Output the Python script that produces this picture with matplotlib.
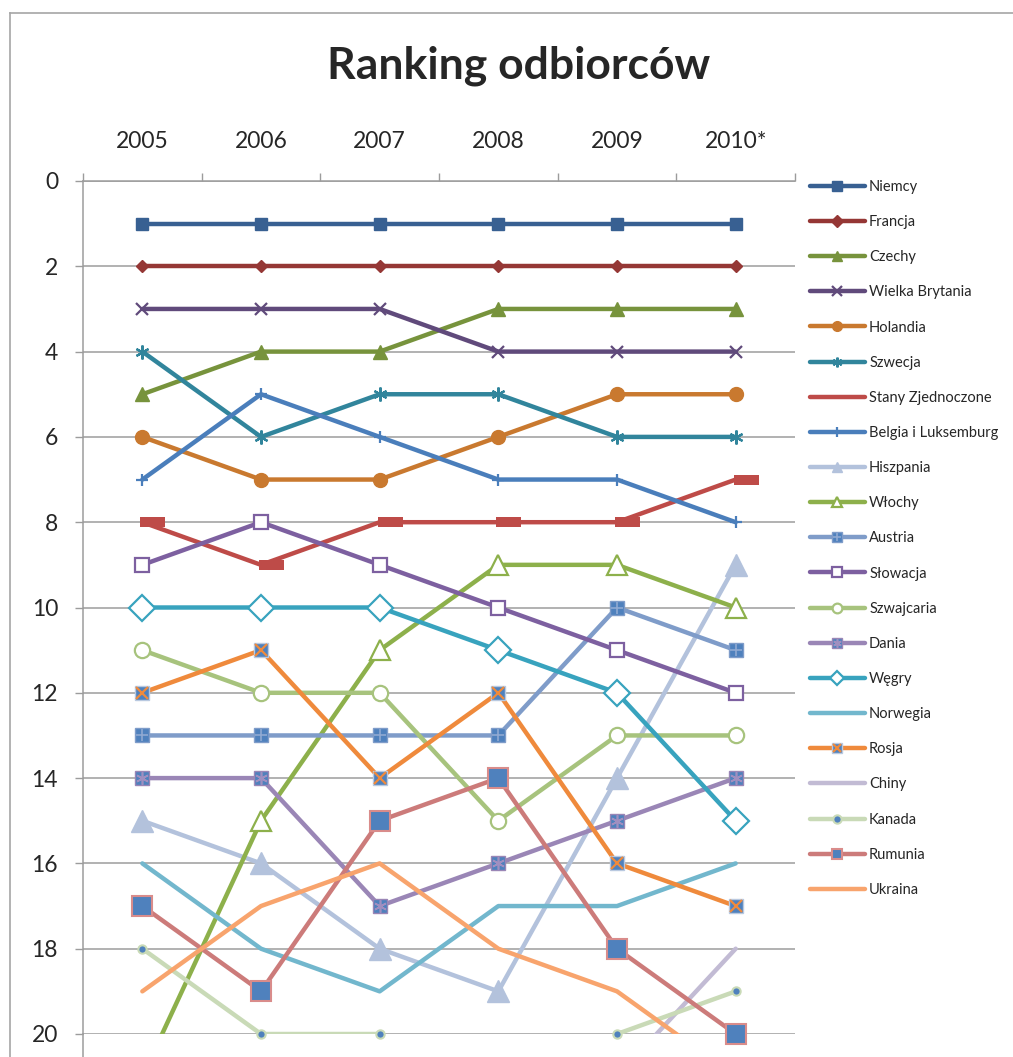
import matplotlib.pyplot as plt
import numpy as np
from matplotlib.lines import Line2D
from matplotlib.path import Path

nan = np.nan

years = ['2005', '2006', '2007', '2008', '2009', '2010*']

niemcy = [1, 1, 1, 1, 1, 1]
francja = [2, 2, 2, 2, 2, 2]
czechy = [5, 4, 4, 3, 3, 3]
wielka_brytania = [3, 3, 3, 4, 4, 4]
holandia = [6, 7, 7, 6, 5, 5]
szwecja = [4, 6, 5, 5, 6, 6]
stany = [8, 9, 8, 8, 8, 7]
belgia = [7, 5, 6, 7, 7, 8]
hiszpania = [15, 16, 18, 19, 14, 9]
wlochy = [21, 15, 11, 9, 9, 10]
austria = [13, 13, 13, 13, 10, 11]
slowacja = [9, 8, 9, 10, 11, 12]
szwajcaria = [11, 12, 12, 15, 13, 13]
dania = [14, 14, 17, 16, 15, 14]
wegry = [10, 10, 10, 11, 12, 15]
norwegia = [16, 18, 19, 17, 17, 16]
rosja = [12, 11, 14, 12, 16, 17]
chiny = [nan, nan, nan, nan, 21, 18]
kanada = [18, 20, 20, 22, 20, 19]
rumunia = [17, 19, 15, 14, 18, 20]
ukraina = [19, 17, 16, 18, 19, 21]

plt.rcParams['font.family'] = ['Lato', 'DejaVu Sans']
TXT = '#262626'
GRID = '#9c9c9c'
INNER = '#4f81bd'

# wide "dash" marker of Excel, starts at the point and runs to the right
dash = Path([(-0.1, -0.2), (1.0, -0.2), (1.0, 0.2), (-0.1, 0.2), (-0.1, -0.2)],
            [Path.MOVETO, Path.LINETO, Path.LINETO, Path.LINETO, Path.CLOSEPOLY])

fig = plt.figure(figsize=(10.13, 10.57), dpi=100)
ax = fig.add_axes([83 / 1013, 23 / 1057, 712 / 1013, 853 / 1057])
x = np.arange(len(years))
lw = 3.2

series = [
    ('Niemcy', niemcy, '#386092', dict(marker='s', ms=9, mfc='#386092', mec='#386092')),
    ('Francja', francja, '#953735', dict(marker='D', ms=6.5, mfc='#953735', mec='#953735')),
    ('Czechy', czechy, '#77933c', dict(marker='^', ms=10, mfc='#77933c', mec='#77933c')),
    ('Wielka Brytania', wielka_brytania, '#604a7b', dict(marker='x', ms=8, mew=1.6, mec='#604a7b')),
    ('Holandia', holandia, '#c9792f', dict(marker='o', ms=10, mfc='#c9792f', mec='#c9792f')),
    ('Szwecja', szwecja, '#31859c', dict(marker=(6, 2, 0), ms=10, mew=1.6, mec='#31859c')),
    ('Stany Zjednoczone', stany, '#be4b48', dict(marker=dash, ms=33, mfc='#be4b48', mec='#be4b48', mew=0)),
    ('Belgia i Luksemburg', belgia, '#4a7ebb', dict(marker='+', ms=9, mew=1.6, mec='#4a7ebb')),
    ('Hiszpania', hiszpania, '#b3c2dc', dict(marker='^', ms=16, mfc='#b3c2dc', mec='#b3c2dc')),
    ('Włochy', wlochy, '#8db04b', dict(marker='^', ms=14, mfc='white', mec='#8db04b', mew=1.6)),
    ('Austria', austria, '#7f9cc9', dict(marker='s', ms=10, mfc=INNER, mec='#7f9cc9', mew=1)),
    ('Słowacja', slowacja, '#7d60a0', dict(marker='s', ms=10, mfc='white', mec='#7d60a0', mew=1.6)),
    ('Szwajcaria', szwajcaria, '#a7c37d', dict(marker='o', ms=11, mfc='white', mec='#a7c37d', mew=1.6)),
    ('Dania', dania, '#9a86b6', dict(marker='s', ms=10, mfc=INNER, mec='#9a86b6', mew=1)),
    ('Węgry', wegry, '#38a3be', dict(marker='D', ms=13, mfc='white', mec='#38a3be', mew=1.6)),
    ('Norwegia', norwegia, '#72b7cd', None),
    ('Rosja', rosja, '#ef8a3c', dict(marker='s', ms=10, mfc=INNER, mec='#b9c9e0', mew=1)),
    ('Chiny', chiny, '#c2bbd4', None),
    ('Kanada', kanada, '#c9dab7', dict(marker='o', ms=6, mfc=INNER, mec='#c9dab7', mew=1.5)),
    ('Rumunia', rumunia, '#cc7b7a', dict(marker='s', ms=14, mfc=INNER, mec='#d98c8b', mew=1.5)),
    ('Ukraina', ukraina, '#f8a46d', None),
]

# inner symbols drawn on top of the filled squares
overlays = {
    'Austria': dict(marker='+', ms=9, mew=1.2, mec='#8fa9d2'),
    'Dania': dict(marker=(6, 2, 0), ms=9, mew=1.2, mec='#a08fc0'),
    'Rosja': dict(marker='x', ms=9, mew=1.6, mec='#ef8a3c'),
}

handles = []
labels = []
for i, (name, vals, color, mk) in enumerate(series):
    z = 3 + i
    ax.plot(x, vals, color=color, lw=lw, solid_capstyle='round',
            solid_joinstyle='round', zorder=z)
    # legend entry: line with a small marker in the middle
    if mk is None or name == 'Stany Zjednoczone':
        h = Line2D([], [], color=color, lw=lw, solid_capstyle='round')
    else:
        small = dict(mk)
        small['ms'] = min(mk['ms'], 7)
        h = Line2D([], [], color=color, lw=lw, solid_capstyle='round', **small)
    if mk is not None:
        # markers are not clipped by the plot area, only the lines are
        vis = np.array(vals, dtype=float)
        vis[vis > 20] = nan
        ax.plot(x, vis, ls='None', zorder=z + 0.5, clip_on=False, **mk)
        if name in overlays:
            ax.plot(x, vis, ls='None', zorder=z + 0.6, clip_on=False, **overlays[name])
            ov = dict(overlays[name])
            ov['ms'] = 6
            h = (h, Line2D([], [], ls='None', **ov))
    handles.append(h)
    labels.append(name)

ax.set_xlim(-0.5, 5.5)
ax.set_ylim(20, 0)
ax.set_yticks(range(0, 21, 2))
ax.yaxis.grid(True, color=GRID, lw=1.1)
ax.set_axisbelow(True)

ax.xaxis.set_ticks_position('top')
ax.set_xticks(np.arange(-0.5, 6, 1))
ax.set_xticklabels([])
ax.set_xticks(x, minor=True)
ax.set_xticklabels(years, minor=True)
ax.tick_params(axis='x', which='major', length=6, width=1, color=GRID, direction='out')
ax.tick_params(axis='x', which='minor', length=0, pad=21, labelsize=16.5, labelcolor=TXT)
ax.tick_params(axis='y', length=6, width=1, color=GRID, pad=12, labelsize=16.5, labelcolor=TXT)

for s in ['right', 'bottom']:
    ax.spines[s].set_visible(False)
for s in ['left', 'top']:
    ax.spines[s].set_color(GRID)
    ax.spines[s].set_linewidth(1.1)
ax.plot([0, 0], [0, -0.03], transform=ax.transAxes, color=GRID, lw=1.1, clip_on=False)

fig.text(0.512, 1 - 66 / 1057, 'Ranking odbiorców', ha='center', va='center',
         fontsize=32, fontweight='bold', color=TXT)

fig.legend(handles, labels, loc='upper left', bbox_to_anchor=(810 / 1013, 1 - 180 / 1057),
           frameon=False, fontsize=10.5, handlelength=3.75, handletextpad=0.3,
           labelspacing=1.45, borderpad=0, borderaxespad=0, labelcolor=TXT)

# chart area border (left and top edges)
fig.add_artist(Line2D([10 / 1013, 10 / 1013], [0, 1 - 13 / 1057], color='#a6a6a6', lw=1.2))
fig.add_artist(Line2D([10 / 1013, 1], [1 - 13 / 1057, 1 - 13 / 1057], color='#a6a6a6', lw=1.2))

fig.savefig('out.png', dpi=100)
